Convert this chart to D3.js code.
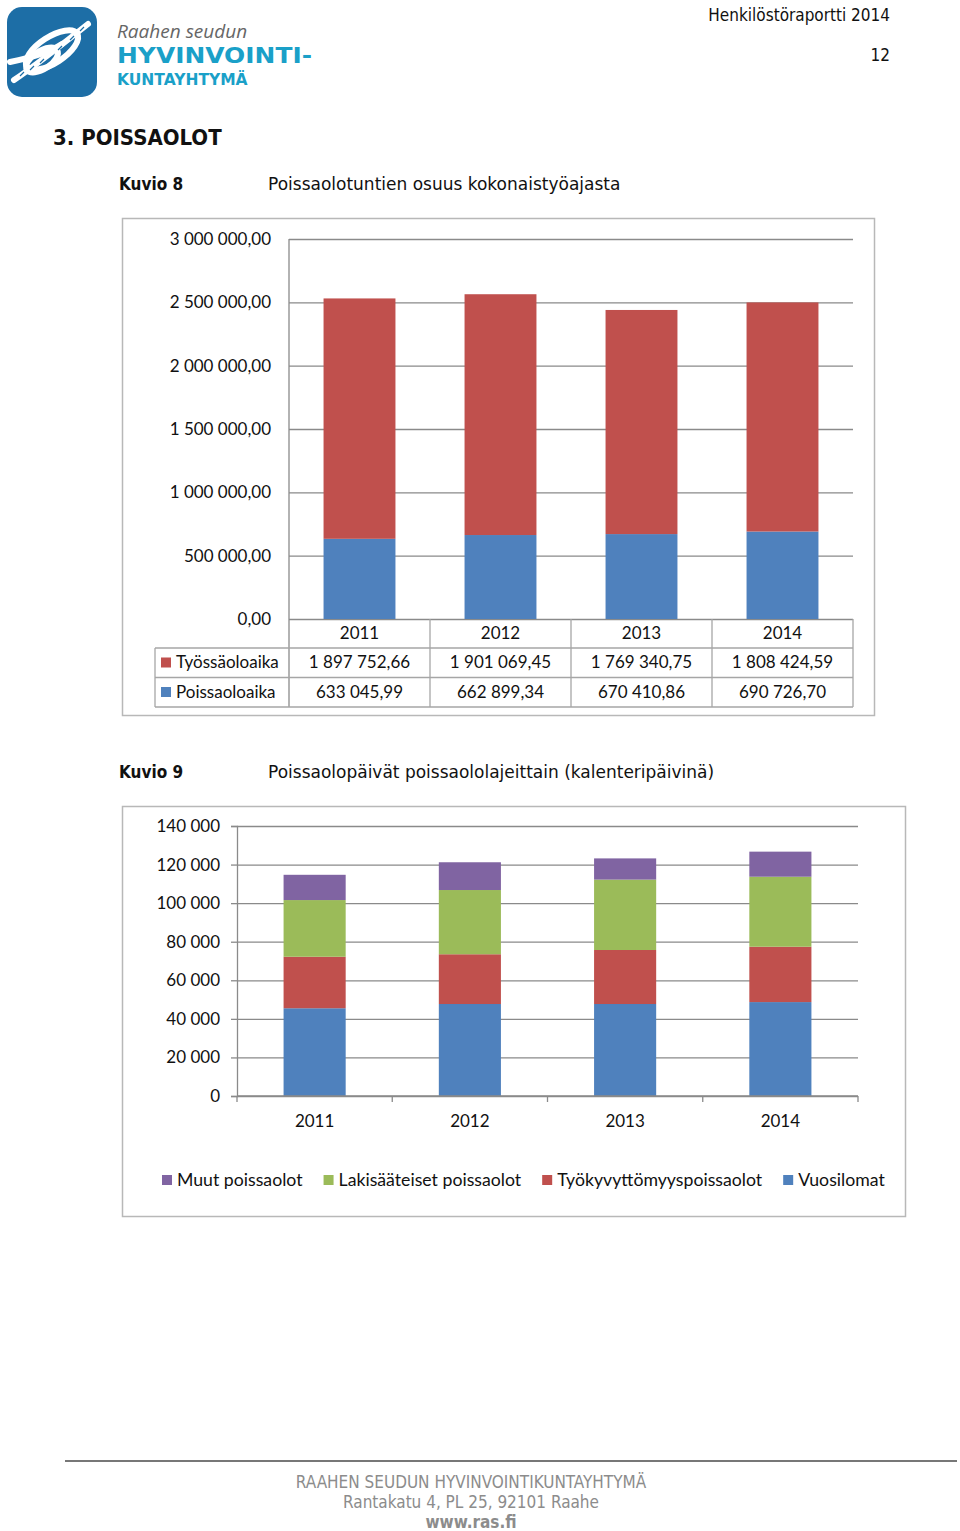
<!DOCTYPE html>
<html><head><meta charset="utf-8">
<script src="https://cdn.jsdelivr.net/npm/d3@7"></script>
<style>body{margin:0;background:#fff} svg{display:block}</style>
</head><body>
<svg id="page" width="960" height="1531"></svg>
<script>
// ---------- DATA ----------
const years = ["2011", "2012", "2013", "2014"];
// Kuvio 8
const hoursSeries = ["Työssäoloaika", "Poissaoloaika"];
const tyossaoloaika = [1897752.66, 1901069.45, 1769340.75, 1808424.59];
const poissaoloaika = [633045.99, 662899.34, 670410.86, 690726.70];
const hoursTicks = [0, 500000, 1000000, 1500000, 2000000, 2500000, 3000000];
// Kuvio 9
const absenceSeries = ["Vuosilomat", "Työkyvyttömyyspoissaolot", "Lakisääteiset poissaolot", "Muut poissaolot"];
const legendOrder = ["Muut poissaolot", "Lakisääteiset poissaolot", "Työkyvyttömyyspoissaolot", "Vuosilomat"];
const vuosilomat = [45500, 47700, 47700, 48700];
const tyokyvyttomyys = [26700, 25800, 28000, 28700];
const lakisaateiset = [29400, 33300, 36500, 36300];
const muut = [13100, 14400, 11000, 13000];
const dayTicks = [0, 20000, 40000, 60000, 80000, 100000, 120000, 140000];

// ---------- STYLE ----------
const RED = "#C0504D", BLUE = "#4F81BD", GREEN = "#9BBB59", PURPLE = "#8064A2";
const GRID = "#8a8a8a", FRAME = "#b8b8b8";
const CHART_FONT = "Lato, 'Open Sans', sans-serif";
const DOC_FONT = "'DejaVu Sans Condensed', 'DejaVu Sans', sans-serif";
const DOC_FONT_WIDE = "'DejaVu Sans', sans-serif";

const fiLocale = d3.formatLocale({decimal: ",", thousands: "\u00a0", grouping: [3], currency: ["", " €"]});
const fmt2 = fiLocale.format(",.2f");
const fmt0 = fiLocale.format(",d");

const svg = d3.select("#page");

// ---------- HEADER / LOGO ----------
const logo = svg.append("g");
logo.append("rect").attr("x", 7).attr("y", 7).attr("width", 90).attr("height", 90).attr("rx", 15).attr("fill", "#1d6ea6");
const rope = logo.append("g").attr("fill", "none").attr("stroke", "#fff").attr("stroke-width", 6).attr("stroke-linecap", "round");
rope.append("path").attr("d", "M14,80 C35,66 55,50 88,24");
rope.append("ellipse").attr("cx", 52).attr("cy", 50).attr("rx", 30).attr("ry", 13).attr("transform", "rotate(-33,52,50)");
rope.append("ellipse").attr("cx", 42).attr("cy", 60).attr("rx", 18).attr("ry", 9).attr("transform", "rotate(-33,42,60)");
rope.append("path").attr("d", "M10,62 C30,58 50,52 62,44");
const ropeLines = logo.append("g").attr("fill", "none").attr("stroke", "#1d6ea6").attr("stroke-width", 1.2);
ropeLines.append("path").attr("d", "M20,76 l4,-4 M30,70 l4,-4 M40,63 l4,-4 M58,50 l4,-4 M70,40 l4,-4 M80,31 l4,-4");

svg.append("text").attr("x", 117).attr("y", 38).attr("font-family", "'Open Sans', sans-serif").attr("font-style", "italic")
  .attr("font-size", 19).attr("fill", "#666").text("Raahen seudun");
svg.append("text").attr("x", 117).attr("y", 63).attr("font-family", "'DejaVu Sans', sans-serif").attr("font-weight", "bold")
  .attr("font-size", 22).attr("fill", "#1aa0c8").attr("textLength", 195).attr("lengthAdjust", "spacingAndGlyphs").text("HYVINVOINTI-");
svg.append("text").attr("x", 117).attr("y", 85).attr("font-family", "'DejaVu Sans', sans-serif").attr("font-weight", "bold")
  .attr("font-size", 15.5).attr("fill", "#1aa0c8").text("KUNTAYHTYMÄ");

svg.append("text").attr("x", 890).attr("y", 21).attr("text-anchor", "end").attr("font-family", DOC_FONT)
  .attr("font-size", 17).attr("fill", "#111").text("Henkilöstöraportti 2014");
svg.append("text").attr("x", 890).attr("y", 61).attr("text-anchor", "end").attr("font-family", DOC_FONT)
  .attr("font-size", 17).attr("fill", "#111").text("12");

svg.append("text").attr("x", 53).attr("y", 145).attr("font-family", DOC_FONT).attr("font-weight", "bold")
  .attr("font-size", 22).attr("fill", "#111").text("3. POISSAOLOT");

function caption(y, label, title) {
  svg.append("text").attr("x", 119).attr("y", y).attr("font-family", DOC_FONT).attr("font-weight", "bold")
    .attr("font-size", 17).attr("fill", "#111").text(label);
  svg.append("text").attr("x", 268).attr("y", y).attr("font-family", DOC_FONT_WIDE)
    .attr("font-size", 17).attr("fill", "#111").text(title);
}
caption(190, "Kuvio 8", "Poissaolotuntien osuus kokonaistyöajasta");
caption(778, "Kuvio 9", "Poissaolopäivät poissaololajeittain (kalenteripäivinä)");

// ---------- CHART 1 ----------
const c1 = svg.append("g");
c1.append("rect").attr("x", 122.5).attr("y", 218.5).attr("width", 752).attr("height", 497)
  .attr("fill", "none").attr("stroke", FRAME).attr("stroke-width", 1.5);

const y1 = d3.scaleLinear().domain([0, 3000000]).range([619, 239]);
const cols1 = d3.scaleBand().domain(years).range([289, 853]);
const x1 = d3.scaleBand().domain(years).range([289, 853]).paddingInner(0.49).paddingOuter(0.245);

const ax1 = c1.append("g").attr("transform", "translate(289,0)")
  .call(d3.axisLeft(y1).tickValues(hoursTicks).tickSize(-(853 - 289)).tickPadding(18).tickFormat(fmt2));
ax1.select(".domain").remove();
ax1.selectAll(".tick line").attr("stroke", GRID).attr("stroke-width", 1.3);
ax1.selectAll(".tick text").attr("font-family", CHART_FONT).attr("font-size", 17).attr("fill", "#111");

const rows1 = years.map((yr, i) => ({year: yr, "Työssäoloaika": tyossaoloaika[i], "Poissaoloaika": poissaoloaika[i]}));
const stack1 = d3.stack().keys(["Poissaoloaika", "Työssäoloaika"])(rows1);
const color1 = {"Työssäoloaika": RED, "Poissaoloaika": BLUE};
c1.append("g").selectAll("g").data(stack1).join("g").attr("fill", d => color1[d.key])
  .selectAll("rect").data(d => d).join("rect")
  .attr("x", d => x1(d.data.year)).attr("width", x1.bandwidth())
  .attr("y", d => y1(d[1])).attr("height", d => y1(d[0]) - y1(d[1]));

// axis line
c1.append("line").attr("x1", 289).attr("x2", 289).attr("y1", 239).attr("y2", 707).attr("stroke", GRID).attr("stroke-width", 1.3);

// data table
const tbl = c1.append("g").attr("stroke", "#a6a6a6").attr("stroke-width", 1.3);
const rowLines = [648, 677.5, 707];
rowLines.forEach(yv => tbl.append("line").attr("x1", 155).attr("x2", 853).attr("y1", yv).attr("y2", yv));
years.forEach(yr => {
  const xr = cols1(yr) + cols1.bandwidth();
  tbl.append("line").attr("x1", xr).attr("x2", xr).attr("y1", 619).attr("y2", 707);
});
tbl.append("line").attr("x1", 155).attr("x2", 155).attr("y1", 648).attr("y2", 707);

const tt = c1.append("g").attr("font-family", CHART_FONT).attr("font-size", 17).attr("fill", "#111");
years.forEach((yr, i) => {
  const cx = cols1(yr) + cols1.bandwidth() / 2;
  tt.append("text").attr("x", cx).attr("y", 633).attr("dy", "0.35em").attr("text-anchor", "middle").text(yr);
  tt.append("text").attr("x", cx).attr("y", 662.5).attr("dy", "0.35em").attr("text-anchor", "middle").text(fmt2(tyossaoloaika[i]));
  tt.append("text").attr("x", cx).attr("y", 692).attr("dy", "0.35em").attr("text-anchor", "middle").text(fmt2(poissaoloaika[i]));
});
const rowY = {"Työssäoloaika": 662.5, "Poissaoloaika": 692};
hoursSeries.forEach(s => {
  c1.append("rect").attr("x", 161).attr("y", rowY[s] - 5).attr("width", 10).attr("height", 10).attr("fill", color1[s]);
  tt.append("text").attr("x", 176).attr("y", rowY[s]).attr("dy", "0.35em").text(s);
});

// ---------- CHART 2 ----------
const c2 = svg.append("g");
c2.append("rect").attr("x", 122.5).attr("y", 806.5).attr("width", 783).attr("height", 410)
  .attr("fill", "none").attr("stroke", FRAME).attr("stroke-width", 1.5);

const y2 = d3.scaleLinear().domain([0, 140000]).range([1096, 826]);
const cols2 = d3.scaleBand().domain(years).range([237, 858]);
const x2 = d3.scaleBand().domain(years).range([237, 858]).paddingInner(0.6).paddingOuter(0.3);

const grid2 = c2.append("g").attr("transform", "translate(237,0)")
  .call(d3.axisLeft(y2).tickValues(dayTicks).tickSize(-(858 - 237)).tickFormat(""));
grid2.select(".domain").remove();
grid2.selectAll(".tick line").attr("stroke", GRID).attr("stroke-width", 1.3);

const ax2 = c2.append("g").attr("transform", "translate(237,0)")
  .call(d3.axisLeft(y2).tickValues(dayTicks).tickSize(6).tickPadding(11).tickFormat(fmt0));
ax2.select(".domain").attr("stroke", GRID).attr("stroke-width", 1.3);
ax2.selectAll(".tick line").attr("stroke", GRID).attr("stroke-width", 1.3);
ax2.selectAll(".tick text").attr("font-family", CHART_FONT).attr("font-size", 17).attr("fill", "#111");

const rows2 = years.map((yr, i) => ({
  year: yr,
  "Vuosilomat": vuosilomat[i],
  "Työkyvyttömyyspoissaolot": tyokyvyttomyys[i],
  "Lakisääteiset poissaolot": lakisaateiset[i],
  "Muut poissaolot": muut[i]
}));
const color2 = {"Vuosilomat": BLUE, "Työkyvyttömyyspoissaolot": RED, "Lakisääteiset poissaolot": GREEN, "Muut poissaolot": PURPLE};
const stack2 = d3.stack().keys(absenceSeries)(rows2);
c2.append("g").selectAll("g").data(stack2).join("g").attr("fill", d => color2[d.key])
  .selectAll("rect").data(d => d).join("rect")
  .attr("x", d => x2(d.data.year)).attr("width", x2.bandwidth())
  .attr("y", d => y2(d[1])).attr("height", d => y2(d[0]) - y2(d[1]));

// x axis with boundary ticks
const xax = c2.append("g").attr("stroke", GRID).attr("stroke-width", 1.3);
xax.append("line").attr("x1", 237).attr("x2", 858).attr("y1", 1096).attr("y2", 1096);
const bounds = [cols2.range()[0]].concat(years.map(yr => cols2(yr) + cols2.bandwidth()));
bounds.forEach(bx => xax.append("line").attr("x1", bx).attr("x2", bx).attr("y1", 1096).attr("y2", 1102));
c2.append("g").selectAll("text").data(years).join("text")
  .attr("x", d => cols2(d) + cols2.bandwidth() / 2).attr("y", 1121).attr("dy", "0.35em")
  .attr("text-anchor", "middle").attr("font-family", CHART_FONT).attr("font-size", 17).attr("fill", "#111").text(d => d);

// legend
const leg = c2.append("g").attr("font-family", CHART_FONT).attr("font-size", 17.7).attr("fill", "#111");
let lx = 162;
legendOrder.forEach(s => {
  leg.append("rect").attr("x", lx).attr("y", 1175).attr("width", 10).attr("height", 10).attr("fill", color2[s]);
  const t = leg.append("text").attr("x", lx + 15).attr("y", 1180).attr("dy", "0.35em").text(s);
  lx += 15 + t.node().getComputedTextLength() + 21;
});

// ---------- FOOTER ----------
svg.append("line").attr("x1", 65).attr("x2", 957).attr("y1", 1461).attr("y2", 1461).attr("stroke", "#777").attr("stroke-width", 2);
const foot = svg.append("g").attr("font-family", DOC_FONT).attr("font-size", 17).attr("fill", "#8c8c8c").attr("text-anchor", "middle");
foot.append("text").attr("x", 471).attr("y", 1488).text("RAAHEN SEUDUN HYVINVOINTIKUNTAYHTYMÄ");
foot.append("text").attr("x", 471).attr("y", 1508).text("Rantakatu 4, PL 25, 92101 Raahe");
foot.append("text").attr("x", 471).attr("y", 1528).attr("font-weight", "bold").text("www.ras.fi");
</script>
</body></html>
